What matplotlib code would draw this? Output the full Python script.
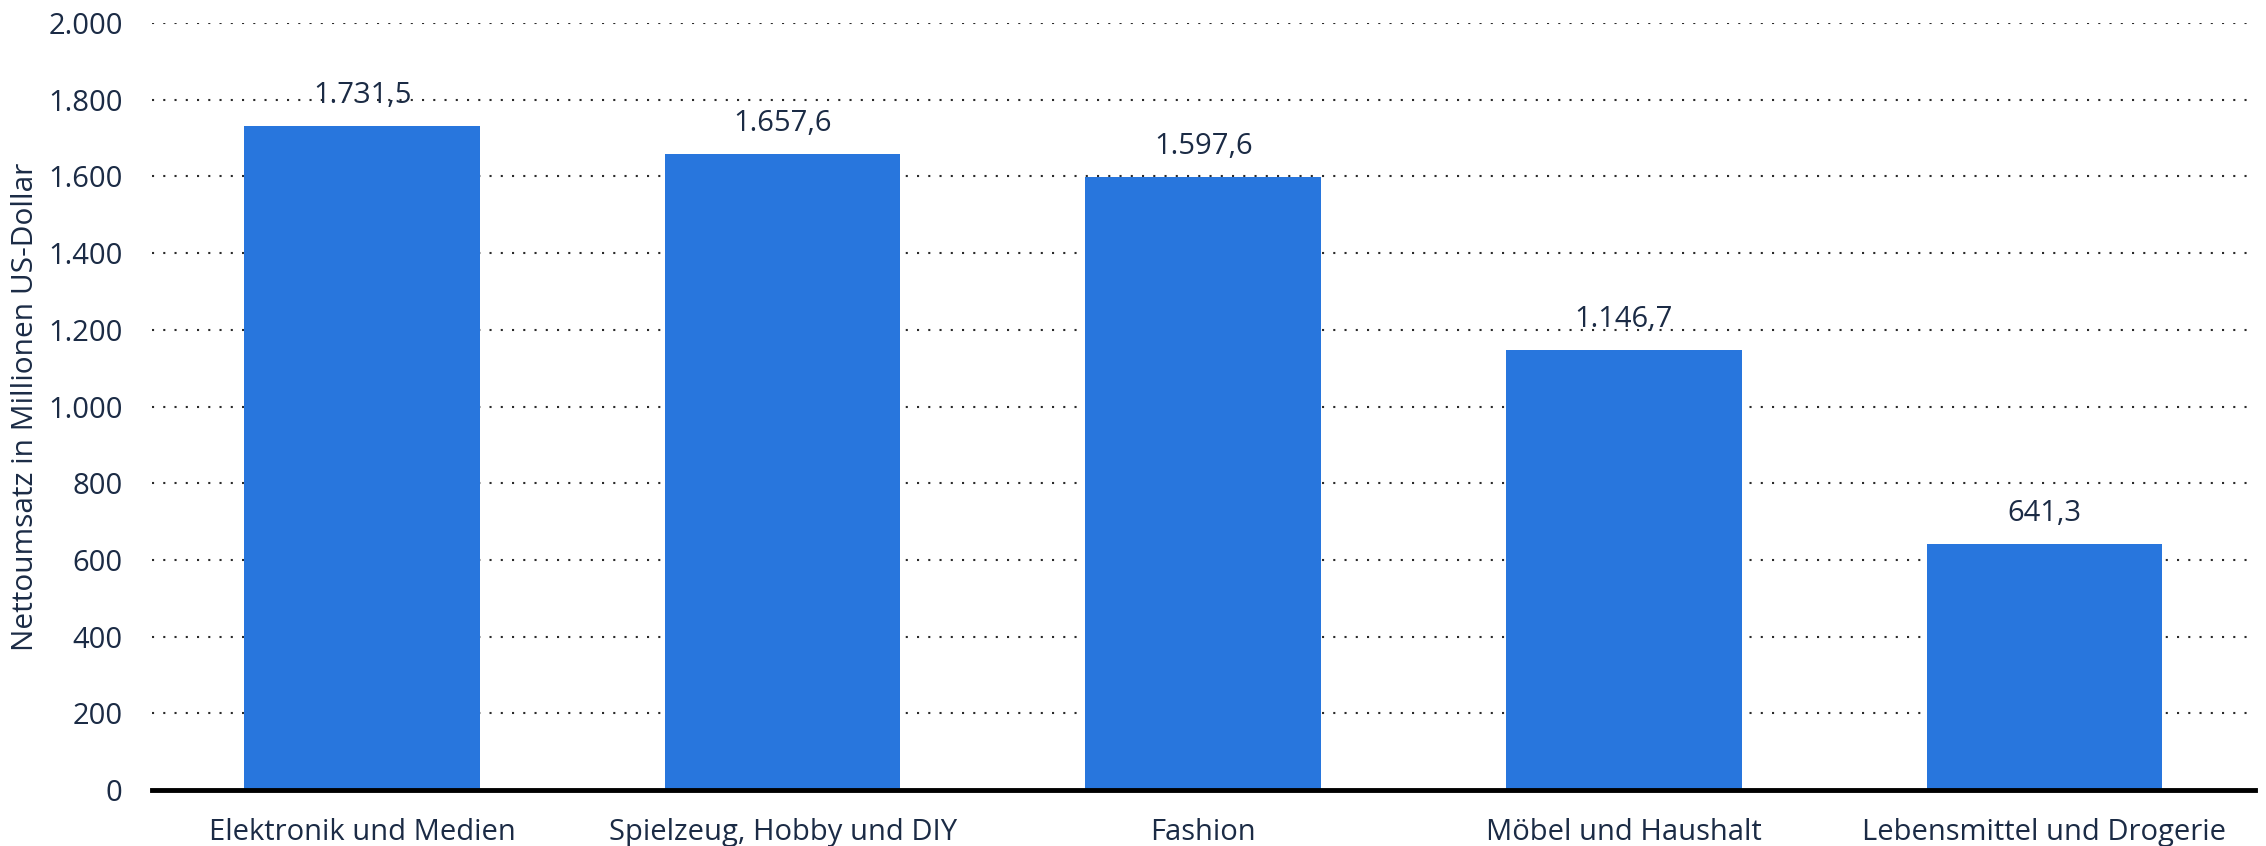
import matplotlib
matplotlib.use("Agg")
import matplotlib.pyplot as plt
from matplotlib.ticker import FuncFormatter

# ---------------------------------------------------------------------------
# Data
# ---------------------------------------------------------------------------

CATEGORIES = [
    "Elektronik und Medien",
    "Spielzeug, Hobby und DIY",
    "Fashion",
    "Möbel und Haushalt",
    "Lebensmittel und Drogerie",
]
VALUES = [1731.5, 1657.6, 1597.6, 1146.7, 641.3]
Y_TICKS = [0, 200, 400, 600, 800, 1000, 1200, 1400, 1600, 1800, 2000]

BAR_COLOR  = "#2876dd"
TEXT_COLOR = "#1b2b45"

plt.rcParams["font.family"] = ["Open Sans", "DejaVu Sans"]


def de_int(v, _pos=None):
    return f"{int(v):,}".replace(",", ".")


def de_dec(v):
    s = f"{v:,.1f}"
    return s.replace(",", "X").replace(".", ",").replace("X", ".")


fig = plt.figure(figsize=(22.66, 8.46), dpi=100)
ax = fig.add_axes([0.067, 0.066, 0.928, 0.907])

x = range(len(CATEGORIES))
ax.bar(x, VALUES, width=0.56, color=BAR_COLOR, zorder=3)

for xi, v in zip(x, VALUES):
    ax.annotate(de_dec(v), (xi, v), xytext=(0, 22), textcoords="offset points",
                ha="center", va="center", fontsize=21, color=TEXT_COLOR, zorder=4)

ax.set_xlim(-0.5, len(CATEGORIES) - 0.5)
ax.set_ylim(0, 2000)
ax.set_yticks(Y_TICKS)
ax.yaxis.set_major_formatter(FuncFormatter(de_int))
ax.set_xticks(list(x))
ax.set_xticklabels(CATEGORIES)

ax.grid(axis="y", linestyle=(0, (1, 4.4)), linewidth=1.5, color="#2a2a2a", zorder=0)
ax.set_axisbelow(True)

for side in ["top", "right", "left"]:
    ax.spines[side].set_visible(False)
ax.spines["bottom"].set_linewidth(3.5)
ax.spines["bottom"].set_color("black")
ax.spines["bottom"].set_zorder(5)

ax.tick_params(axis="both", length=0, labelsize=21, labelcolor=TEXT_COLOR)
ax.tick_params(axis="y", pad=21)
ax.tick_params(axis="x", pad=20)

ax.set_ylabel("Nettoumsatz in Millionen US-Dollar", fontsize=21.5, color=TEXT_COLOR)
ax.yaxis.set_label_coords(-0.053, 0.5)

fig.savefig("out.png", dpi=100)
